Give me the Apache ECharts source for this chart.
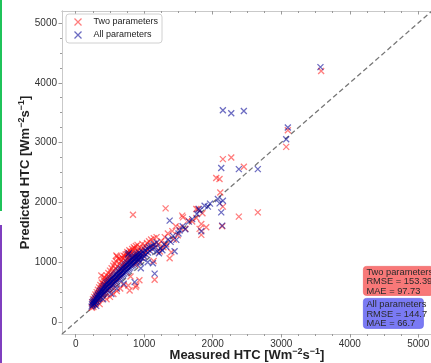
<!DOCTYPE html>
<html>
<head>
<meta charset="utf-8">
<script src="https://cdn.jsdelivr.net/npm/echarts@6/dist/echarts.min.js"></script>
<style>
  html, body { margin: 0; padding: 0; background: #fff; }
  #chart { width: 431px; height: 363px; }
</style>
</head>
<body>
<div id="chart"></div>
<script>
// Measured vs predicted heat-transfer coefficient for two model variants.
const seriesNames = ['Two parameters', 'All parameters'];

// [measured, predicted] pairs, Wm^-2 s^-1
const twoParams = [
  [235,240],[240,330],[246,280],[252,380],[258,250],[264,340],[270,420],[276,290],[282,380],[288,460],
  [294,310],[300,420],[306,500],[312,340],[318,460],[324,540],[330,360],[336,490],[342,580],[348,390],
  [354,520],[360,620],[366,410],[372,560],[374,778],[380,660],[386,440],[392,600],[398,640],[404,470],
  [410,700],[416,630],[422,480],[428,740],[434,560],[440,680],[446,500],[452,780],[458,620],[464,720],
  [470,530],[476,820],[482,660],[488,760],[494,560],[500,860],[506,700],[512,800],[518,590],[524,900],
  [530,740],[536,620],[542,850],[548,940],[554,650],[560,780],[566,980],[572,680],[578,890],[584,1020],
  [590,720],[593,1112],[596,820],[602,1095],[608,930],[614,750],[620,1060],[626,860],[632,780],[638,980],
  [644,1060],[650,810],[656,900],[662,1020],[668,840],[674,1080],[680,950],[686,870],[692,1060],[698,1110],
  [704,900],[710,990],[716,1100],[722,930],[728,1130],[734,1030],[740,960],[746,1140],[752,1170],[758,990],
  [764,1070],[770,1150],[776,1020],[782,1200],[788,1110],[794,1050],[800,1180],[806,1000],[812,1150],[818,1080],
  [824,1220],[830,1030],[836,1190],[842,1110],[848,1250],[854,1060],[860,1230],[866,1140],[872,960],[878,1270],
  [884,1090],[890,1170],[896,1000],[902,1290],[908,1120],[914,1200],[920,1040],[930,1160],[940,1250],[950,1080],
  [960,1200],[972,1307],[980,1110],[990,1240],[1000,1150],[1012,1280],[1025,1180],[1040,1320],[1055,1210],[1070,1350],
  [1085,1240],[1100,1380],[1120,1270],[1140,1400],[1160,1300],[1180,1420],
  [350,300],[450,380],[550,470],[650,560],[700,620],[800,760],[600,520],[500,420],
  [413,750],[885,611],[875,583],[787,528],[768,611],[930,700],[1152,706],[1137,1020],
  [1210,1300],[1230,1180],[1250,1350],[1280,1250],[1300,1420],[1320,1300],[1345,1480],[1371,1067],[1395,1167],[1410,1520],
  [1430,1380],[1460,1600],[1490,1450],[1520,1580],[1555,1779],[1565,1750],[1600,1560],[1640,1700],[1700,1680],[1760,1740],
  [1760,1890],[1783,1890],[1808,1557],[1833,1640],[1833,1457],[1905,1584],[1850,1820],[1312,1900],[836,1795],
  [2051,2407],[2099,2391],[2110,2167],[2148,1929],[2138,1600],[2148,2724],[2270,2751],[2381,1762],[2454,2596],[2658,1834],
  [3072,2929],[3096,3207],[3582,4196]
];

const allParams = [
  [232,260],[238,300],[245,330],[250,280],[256,350],[262,310],[268,370],[274,300],[280,340],[286,400],
  [292,330],[298,380],[304,430],[310,350],[316,410],[322,460],[328,380],[334,440],[340,490],[346,400],
  [352,460],[358,520],[364,420],[370,480],[376,540],[382,450],[388,510],[394,570],[400,470],[406,530],
  [412,600],[418,490],[424,560],[430,620],[436,510],[442,580],[448,650],[454,530],[460,600],[466,670],
  [472,550],[478,620],[484,690],[490,570],[496,640],[502,710],[508,590],[514,660],[520,730],[526,610],
  [532,680],[538,750],[544,630],[550,700],[556,770],[562,650],[568,720],[574,790],[580,670],[586,740],
  [592,810],[598,690],[604,760],[610,830],[616,710],[622,780],[628,850],[634,730],[640,800],[646,870],
  [652,750],[658,820],[664,890],[670,770],[676,840],[682,910],[688,790],[694,860],[700,930],[706,810],
  [712,880],[718,950],[724,830],[730,900],[736,970],[742,850],[748,920],[754,990],[760,870],[766,940],
  [772,1010],[778,890],[784,960],[790,1030],[796,910],[802,980],[808,1050],[814,930],[820,1000],[826,1070],
  [832,950],[838,1020],[844,1090],[850,970],[856,1040],[862,1100],[868,990],[874,1060],[880,1120],[886,1010],
  [892,1080],[898,1140],[904,1030],[910,1100],[916,1050],[922,1160],[928,1070],[934,1120],[940,1000],[950,1140],
  [960,1080],[970,1180],[980,1060],[990,1150],[1000,1100],[1012,1200],[1025,1130],[1040,1230],[1055,1160],[1070,1250],
  [1085,1190],[1100,1270],[1120,1220],[1140,1300],[1160,1250],[1180,1330],
  [300,270],[400,380],[520,470],[600,560],[700,640],[950,900],[1050,1000],
  [860,667],[1152,810],[763,1128],[777,1150],[1127,983],
  [1190,1180],[1215,1150],[1240,1230],[1265,1200],[1290,1300],[1320,1260],[1350,1380],[1371,1695],[1385,1340],[1420,1440],
  [1443,1184],[1468,1373],[1500,1480],[1516,1529],[1560,1600],[1600,1550],[1652,1679],[1700,1720],[1769,1807],[1798,1890],
  [1808,1862],[1833,1518],[1881,1945],[1929,1929],[1960,1980],
  [2075,2057],[2100,1984],[2148,2029],[2124,1834],[2138,1612],[2148,3541],[2270,3490],[2454,3529],[2124,2574],[2381,2557],
  [2658,2557],[3072,3057],[3096,3251],[3572,4262]
];

// 1:1 reference line
const identityLine = [[-200,-200],[5200,5200]];

const majorTicks = [0, 1000, 2000, 3000, 4000, 5000];
const minorTicks = [250, 500, 750, 1250, 1500, 1750, 2250, 2500, 2750, 3250, 3500, 3750, 4250, 4500, 4750];

const statsTwo = ['Two parameters', 'RMSE = 153.39', 'MAE = 97.73'];
const statsAll = ['All parameters', 'RMSE = 144.7', 'MAE = 66.7'];

const RED = 'rgba(255,15,15,0.68)';
const BLUE = 'rgba(0,0,150,0.72)';
const CROSS = 'path://M0,0L10,10M10,0L0,10';

const chart = echarts.init(document.getElementById('chart'), null, { renderer: 'canvas' });

const AXIS_MIN = -200, AXIS_MAX = 5200;
const axisLineColor = '#c9c9c9';
const tickColor = '#9a9a9a';
const FONT = 'Liberation Sans, Arial, sans-serif';
const labelFont = { fontFamily: FONT, fontSize: 10, color: '#333' };

const nameRich = {
  n: { fontFamily: FONT, fontSize: 13, fontWeight: 'bold', color: '#222', lineHeight: 16 },
  s: { fontFamily: FONT, fontSize: 9, fontWeight: 'bold', color: '#222', lineHeight: 9, verticalAlign: 'top' }
};

function makeAxis(opts) {
  const minor = opts.minor;
  return Object.assign({
    type: 'value',
    min: AXIS_MIN,
    max: AXIS_MAX,
    splitLine: { show: false },
    axisLine: { show: true, onZero: false, lineStyle: { color: axisLineColor, width: 1 } },
    axisTick: {
      show: true,
      inside: !!opts.inside,
      length: minor ? 2 : 3.5,
      lineStyle: { color: tickColor, width: 1 },
      customValues: minor ? minorTicks : majorTicks
    },
    axisLabel: opts.labels
      ? Object.assign({ customValues: majorTicks, margin: 5, formatter: v => String(v) }, labelFont)
      : { show: false }
  }, opts.extra || {});
}

const option = {
  animation: false,
  backgroundColor: '#fff',
  grid: { left: 62, top: 11, width: 370, height: 323, containLabel: false, outerBoundsMode: 'none' },
  xAxis: [
    makeAxis({ labels: true, extra: {
      position: 'bottom',
      name: '{n|Measured HTC [Wm}{s|−2}{n|s}{s|−1}{n|]}',
      nameLocation: 'middle',
      nameGap: 13,
      nameMoveOverlap: false,
      nameTextStyle: { rich: nameRich }
    } }),
    makeAxis({ minor: true, extra: { position: 'bottom' } }),
    makeAxis({ inside: true, extra: { position: 'top' } }),
    makeAxis({ inside: true, minor: true, extra: { position: 'top' } })
  ],
  yAxis: [
    makeAxis({ labels: true, extra: {
      position: 'left',
      name: '{n|Predicted HTC [Wm}{s|−2}{n|s}{s|−1}{n|]}',
      nameLocation: 'middle',
      nameGap: 29,
      nameMoveOverlap: false,
      nameRotate: 90,
      nameTextStyle: { rich: nameRich }
    } }),
    makeAxis({ minor: true, extra: { position: 'left' } })
  ],
  legend: {
    left: 66,
    top: 14,
    orient: 'vertical',
    itemWidth: 7,
    itemHeight: 7,
    itemGap: 1,
    padding: [2, 4, 2, 6],
    backgroundColor: '#fff',
    borderColor: '#d0d0d0',
    borderWidth: 1,
    borderRadius: 3,
    textStyle: { fontFamily: FONT, fontSize: 9, color: '#222', padding: [0, 0, 0, 7] },
    data: [
      { name: seriesNames[0], icon: CROSS, itemStyle: { color: 'none', borderColor: RED, borderWidth: 1.3 } },
      { name: seriesNames[1], icon: CROSS, itemStyle: { color: 'none', borderColor: BLUE, borderWidth: 1.3 } }
    ]
  },
  series: [
    {
      type: 'line',
      data: identityLine,
      xAxisIndex: 0, yAxisIndex: 0,
      symbol: 'none',
      silent: true,
      lineStyle: { color: '#777', width: 1.3, type: [5, 3] },
      z: 1
    },
    {
      name: seriesNames[0],
      type: 'scatter',
      data: twoParams,
      symbol: CROSS,
      symbolSize: 6,
      itemStyle: { color: 'none', borderColor: RED, borderWidth: 1.3 },
      z: 2
    },
    {
      name: seriesNames[1],
      type: 'scatter',
      data: allParams,
      symbol: CROSS,
      symbolSize: 6,
      itemStyle: { color: 'none', borderColor: BLUE, borderWidth: 1.3 },
      z: 3
    }
  ],
  graphic: [
    { type: 'rect', left: 0, top: 0, shape: { width: 2, height: 211 }, style: { fill: '#1fc35a' } },
    { type: 'rect', left: 0, top: 225, shape: { width: 2, height: 138 }, style: { fill: '#7f3fbf' } },
    {
      type: 'group', left: 363, top: 266,
      children: [
        { type: 'rect', shape: { x: 0, y: 0, width: 70, height: 29, r: 3 }, style: { fill: '#f87878', stroke: '#f06a6a', lineWidth: 0.8 } },
        { type: 'text', x: 3, y: 1, style: { text: statsTwo.join('\n'), font: '9.3px Liberation Sans, Arial, sans-serif', fill: '#2a2a2a', lineHeight: 9.5 } }
      ]
    },
    {
      type: 'group', left: 363, top: 298,
      children: [
        { type: 'rect', shape: { x: 0, y: 0, width: 60, height: 30, r: 3 }, style: { fill: '#7a7af4', stroke: '#6c6cea', lineWidth: 0.8 } },
        { type: 'text', x: 3, y: 1.5, style: { text: statsAll.join('\n'), font: '9.3px Liberation Sans, Arial, sans-serif', fill: '#2a2a2a', lineHeight: 9.5 } }
      ]
    }
  ]
};

chart.setOption(option);
</script>
</body>
</html>
